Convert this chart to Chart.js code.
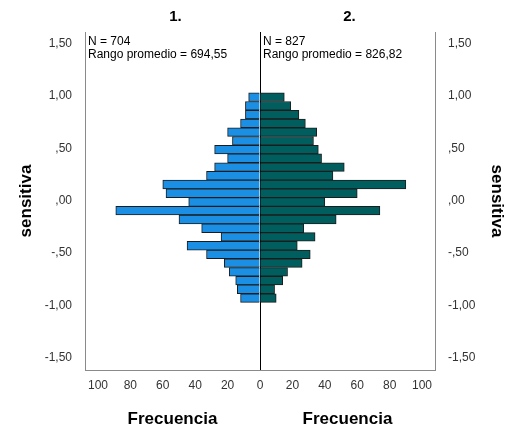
<!DOCTYPE html>
<html>
<head>
<meta charset="utf-8">
<script src="https://cdn.jsdelivr.net/npm/chart.js@4"></script>
<style>
  html, body { margin: 0; padding: 0; background: #fff; }
  #wrap { width: 510px; height: 430px; }
</style>
</head>
<body>
<div id="wrap"><canvas id="pyramid" width="510" height="430"></canvas></div>
<script>
// grupos y resumen
const groups = ['1.', '2.'];
const groupN = [704, 827];
const meanRank = ['694,55', '826,82'];

// centro de cada intervalo de "sensitiva" (de arriba hacia abajo)
const binMid = [0.988, 0.905, 0.821, 0.738, 0.655, 0.571, 0.488, 0.405,
  0.321, 0.238, 0.155, 0.071, -0.012, -0.095, -0.179, -0.262,
  -0.345, -0.429, -0.512, -0.595, -0.679, -0.762, -0.845, -0.929];

// frecuencias
const freqGroup1 = [7, 9, 9, 12, 20, 17, 28, 20, 28, 33, 60, 58,
  44, 89, 50, 36, 24, 45, 33, 22, 19, 15, 14, 12];
const freqGroup2 = [15, 19, 24, 28, 35, 33, 36, 38, 52, 45, 90, 60,
  40, 74, 47, 27, 34, 23, 31, 26, 17, 14, 9, 10];

const FONT = '"Liberation Sans", Arial, sans-serif';

function commaTick(v) {
  let s = Math.abs(v).toFixed(2).replace('.', ',');
  if (s.startsWith('0,')) s = s.slice(1);
  return (v < 0 ? '-' : '') + s;
}

// textos de los paneles (títulos, N, rango promedio, eje x)
const panelText = {
  id: 'panelText',
  afterDraw(chart) {
    const { ctx, chartArea: a, scales: { x } } = chart;
    const mid = x.getPixelForValue(0);
    const cL = (a.left + mid) / 2;
    const cR = (mid + a.right) / 2;
    ctx.save();
    ctx.fillStyle = '#000';
    ctx.textAlign = 'center';
    ctx.textBaseline = 'middle';
    ctx.font = 'bold 15px ' + FONT;
    ctx.fillText(groups[0], cL + 3, 17);
    ctx.fillText(groups[1], cR + 2, 17);
    ctx.font = 'bold 17px ' + FONT;
    ctx.fillText('Frecuencia', cL, 419);
    ctx.fillText('Frecuencia', cR, 419);
    ctx.textAlign = 'left';
    ctx.font = '12px ' + FONT;
    ctx.fillText('N = ' + groupN[0], a.left + 3, 42);
    ctx.fillText('Rango promedio = ' + meanRank[0], a.left + 3, 55);
    ctx.fillText('N = ' + groupN[1], mid + 3, 42);
    ctx.fillText('Rango promedio = ' + meanRank[1], mid + 3, 55);
    ctx.restore();
  }
};

const yAxisBase = {
  type: 'linear',
  min: -1.615,
  max: 1.61,
  offset: false,
  grid: { display: false, offset: false },
  border: { color: '#8a8a8a' },
  ticks: {
    stepSize: 0.5,
    includeBounds: false,
    callback: commaTick,
    color: '#333',
    padding: 5,
    font: { family: FONT, size: 12 }
  },
  title: {
    display: true,
    text: 'sensitiva',
    color: '#000',
    font: { family: FONT, size: 17, weight: 'bold' }
  }
};

const ctx = document.getElementById('pyramid');
const chart = new Chart(ctx, {
  type: 'bar',
  data: {
    datasets: [{
      label: groups[0],
      data: binMid.map((y, i) => ({ x: -freqGroup1[i], y: y })),
      backgroundColor: '#1a8fe3',
      borderColor: '#1c1c1c',
      borderWidth: 1,
      grouped: false,
      barPercentage: 1,
      categoryPercentage: 1
    }, {
      label: groups[1],
      data: binMid.map((y, i) => ({ x: freqGroup2[i], y: y })),
      backgroundColor: '#005e5f',
      borderColor: '#1c1c1c',
      borderWidth: 1,
      grouped: false,
      barPercentage: 1,
      categoryPercentage: 1
    }]
  },
  options: {
    indexAxis: 'y',
    responsive: false,
    devicePixelRatio: 1,
    animation: false,
    layout: { padding: { top: 32, left: 0, right: 0, bottom: 0 } },
    scales: {
      x: {
        type: 'linear',
        min: -108,
        max: 108,
        border: { color: '#8a8a8a' },
        grid: {
          drawTicks: false,
          color: (c) => (c.tick && c.tick.value === 0 ? '#000' : 'rgba(0,0,0,0)')
        },
        ticks: {
          stepSize: 20,
          includeBounds: false,
          callback: (v) => Math.abs(v),
          color: '#333',
          padding: 8,
          font: { family: FONT, size: 12 }
        },
        afterFit: (s) => { s.height = 60; }
      },
      y: Object.assign({}, yAxisBase, {
        position: 'left',
        title: Object.assign({}, yAxisBase.title, { padding: { top: 16, bottom: 0 } }),
        afterFit: (s) => { s.width = 85; }
      }),
      y2: Object.assign({}, yAxisBase, {
        position: 'right',
        title: Object.assign({}, yAxisBase.title, { padding: { top: 3, bottom: 0 } }),
        afterFit: (s) => { s.width = 75; }
      })
    },
    plugins: {
      legend: { display: false },
      tooltip: { enabled: false }
    }
  },
  plugins: [panelText]
});
</script>
</body>
</html>
